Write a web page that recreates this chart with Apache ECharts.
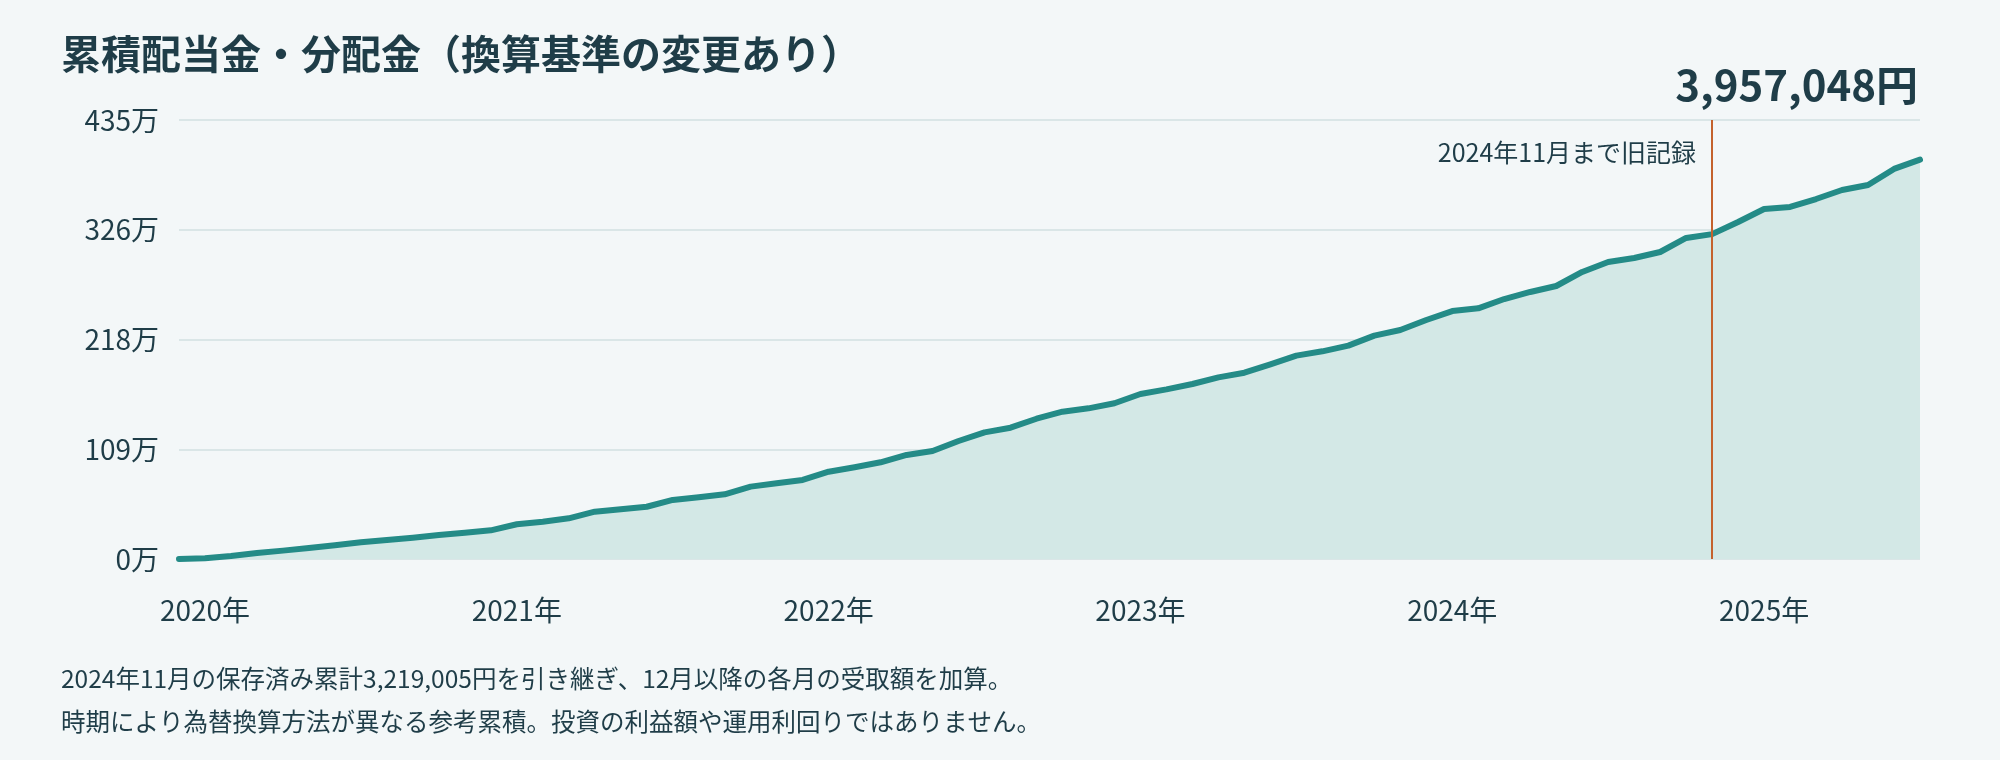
<!DOCTYPE html>
<html>
<head>
<meta charset="utf-8">
<script src="https://cdn.jsdelivr.net/npm/echarts@6/dist/echarts.min.js"></script>
<style>
html,body{margin:0;padding:0;background:#f3f7f8;}
#chart{width:2000px;height:760px;}
</style>
</head>
<body>
<div id="chart"></div>
<script>
const titleText = '累積配当金・分配金（換算基準の変更あり）';
const noteLines = [
  '2024年11月の保存済み累計3,219,005円を引き継ぎ、12月以降の各月の受取額を加算。',
  '時期により為替換算方法が異なる参考累積。投資の利益額や運用利回りではありません。'
];
const markerMonth = '2024-11';
const markerLabel = '2024年11月まで旧記録';
const months = [
  '2019-12',
  '2020-01','2020-02','2020-03','2020-04','2020-05','2020-06','2020-07','2020-08','2020-09','2020-10','2020-11','2020-12',
  '2021-01','2021-02','2021-03','2021-04','2021-05','2021-06','2021-07','2021-08','2021-09','2021-10','2021-11','2021-12',
  '2022-01','2022-02','2022-03','2022-04','2022-05','2022-06','2022-07','2022-08','2022-09','2022-10','2022-11','2022-12',
  '2023-01','2023-02','2023-03','2023-04','2023-05','2023-06','2023-07','2023-08','2023-09','2023-10','2023-11','2023-12',
  '2024-01','2024-02','2024-03','2024-04','2024-05','2024-06','2024-07','2024-08','2024-09','2024-10','2024-11','2024-12',
  '2025-01','2025-02','2025-03','2025-04','2025-05','2025-06','2025-07'
];
const cumulative = [
  0,
  7000, 30000, 59000, 83000, 109000, 136000, 165000, 188000, 211000, 238000, 261000, 284000,
  344000, 370000, 403000, 469000, 494000, 518000, 585000, 611000, 641000, 717000, 750000, 783000,
  865000, 909000, 958000, 1031000, 1070000, 1169000, 1255000, 1301000, 1390000, 1460000, 1493000, 1543000,
  1635000, 1681000, 1734000, 1800000, 1846000, 1929000, 2015000, 2058000, 2114000, 2213000, 2269000, 2368000,
  2457000, 2484000, 2576000, 2646000, 2705000, 2844000, 2943000, 2983000, 3042000, 3181000, 3219005, 3339000,
  3468000, 3488000, 3567000, 3656000, 3706000, 3865000, 3957048
];
const yMax = 4350000;
const yInterval = 1087500;
const markerLabelY = 4030000;

const FONT = '"Noto Sans CJK JP", "Noto Sans", sans-serif';
const TEXT = '#1f3d48';
const latest = cumulative[cumulative.length - 1];
const markerIndex = months.indexOf(markerMonth);

const chart = echarts.init(document.getElementById('chart'), null, {renderer: 'canvas'});
chart.setOption({
  backgroundColor: '#f3f7f8',
  animation: false,
  textStyle: {fontFamily: FONT},
  title: [
    {text: titleText, left: 61, top: 34, padding: 0,
     textStyle: {fontSize: 40, fontWeight: 'bold', color: TEXT, fontFamily: FONT, lineHeight: 40}},
    {text: latest.toLocaleString('en-US') + '円', right: 82, top: 64, padding: 0,
     textStyle: {fontSize: 42, fontWeight: 'bold', color: TEXT, fontFamily: FONT, lineHeight: 42}},
    {text: noteLines[0], left: 61, top: 666, padding: 0,
     textStyle: {fontSize: 24.5, fontWeight: 'normal', color: TEXT, fontFamily: FONT, lineHeight: 25}},
    {text: noteLines[1], left: 61, top: 709, padding: 0,
     textStyle: {fontSize: 24.5, fontWeight: 'normal', color: TEXT, fontFamily: FONT, lineHeight: 25}}
  ],
  grid: {left: 179, right: 80, top: 120, bottom: 201, containLabel: false},
  xAxis: {
    type: 'category',
    data: months,
    boundaryGap: false,
    axisLine: {show: false},
    axisTick: {show: false},
    splitLine: {show: false},
    axisLabel: {
      interval: function (i, v) { return v.slice(5) === '01'; },
      formatter: function (v) { return v.slice(0, 4) + '年'; },
      fontSize: 28, color: TEXT, margin: 37, lineHeight: 28, fontFamily: FONT
    }
  },
  yAxis: {
    type: 'value',
    min: 0, max: yMax, interval: yInterval,
    axisLine: {show: false},
    axisTick: {show: false},
    splitLine: {lineStyle: {color: '#d2e0e2', width: 1.5}},
    axisLabel: {
      formatter: function (v) { return Math.round(v / 10000) + '万'; },
      fontSize: 28, color: TEXT, margin: 20, fontFamily: FONT
    }
  },
  series: [{
    type: 'line',
    data: cumulative,
    symbol: 'none',
    smooth: false,
    clip: false,
    lineStyle: {color: '#248b87', width: 6, join: 'round', cap: 'round'},
    areaStyle: {color: '#d3e8e6', opacity: 1},
    z: 3,
    markLine: {
      silent: true,
      symbol: ['none', 'none'],
      animation: false,
      label: {show: false},
      lineStyle: {color: '#c4622d', width: 2, type: 'solid', opacity: 1},
      data: [{xAxis: markerIndex}]
    },
    markPoint: {
      silent: true,
      symbol: 'circle',
      symbolSize: 0,
      data: [{coord: [markerIndex, markerLabelY]}],
      label: {show: true, position: 'left', distance: 16, formatter: markerLabel,
              fontSize: 25, color: TEXT, fontFamily: FONT}
    }
  }]
});
</script>
</body>
</html>
